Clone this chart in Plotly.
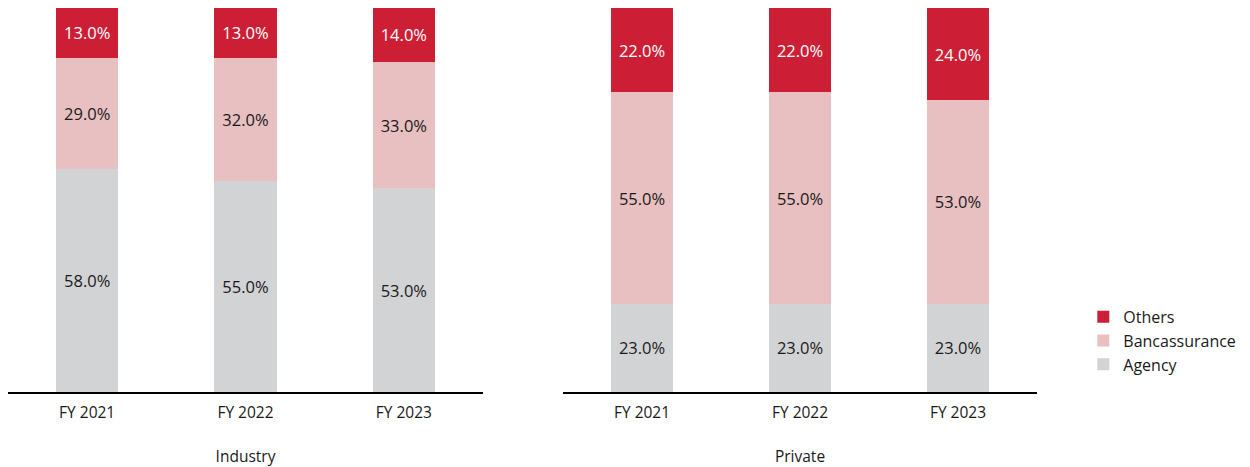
import plotly.graph_objects as go

years = ["FY 2021", "FY 2022", "FY 2023"]
industry_agency = [58.0, 55.0, 53.0]
industry_banca = [29.0, 32.0, 33.0]
industry_others = [13.0, 13.0, 14.0]
private_agency = [23.0, 23.0, 23.0]
private_banca = [55.0, 55.0, 53.0]
private_others = [22.0, 22.0, 24.0]

series_names = ["Agency", "Bancassurance", "Others"]
colors = ["#D2D3D5", "#E8C0C1", "#CC1F36"]
text_colors = ["#1a1a1a", "#1a1a1a", "#ffffff"]

FONT = "Open Sans"
fig = go.Figure()

groups = [
    ("x", "y", [industry_agency, industry_banca, industry_others], True),
    ("x2", "y2", [private_agency, private_banca, private_others], False),
]
for xa, ya, vals, show in groups:
    for name, v, c, tc in zip(series_names, vals, colors, text_colors):
        fig.add_trace(go.Bar(
            x=years, y=v, name=name, marker=dict(color=c, line=dict(width=0)),
            xaxis=xa, yaxis=ya, showlegend=show, legendgroup=name,
            texttemplate="%{y:.1f}%", textposition="inside",
            insidetextanchor="middle", textangle=0,
            textfont=dict(color=tc, size=16.5, family=FONT),
            hoverinfo="skip",
        ))

axis_common = dict(showline=True, linecolor="#000000", linewidth=2,
                   ticks="outside", ticklen=5, tickcolor="rgba(0,0,0,0)",
                   tickfont=dict(size=15.5, color="#1a1a1a", family=FONT),
                   showgrid=False, zeroline=False)
fig.update_layout(
    width=1250, height=467,
    margin=dict(l=0, r=221, t=0, b=83),
    barmode="stack", bargap=0.608,
    plot_bgcolor="white", paper_bgcolor="white",
    font=dict(family=FONT, color="#1a1a1a"),
    xaxis=dict(domain=[0, 0.4616], title=dict(text="Industry", font=dict(size=15.5, family=FONT), standoff=30), **axis_common),
    xaxis2=dict(domain=[0.5394, 1], title=dict(text="Private", font=dict(size=15.5, family=FONT), standoff=30), **axis_common),
    yaxis=dict(range=[0, 100], visible=False),
    yaxis2=dict(range=[0, 100], visible=False, anchor="x2"),
    legend=dict(x=1.045, y=0.24, xanchor="left", yanchor="top", traceorder="reversed",
                font=dict(size=16, family=FONT), itemwidth=30, tracegroupgap=0),
    uniformtext=dict(mode=False),
)
fig.write_html("out.html")
